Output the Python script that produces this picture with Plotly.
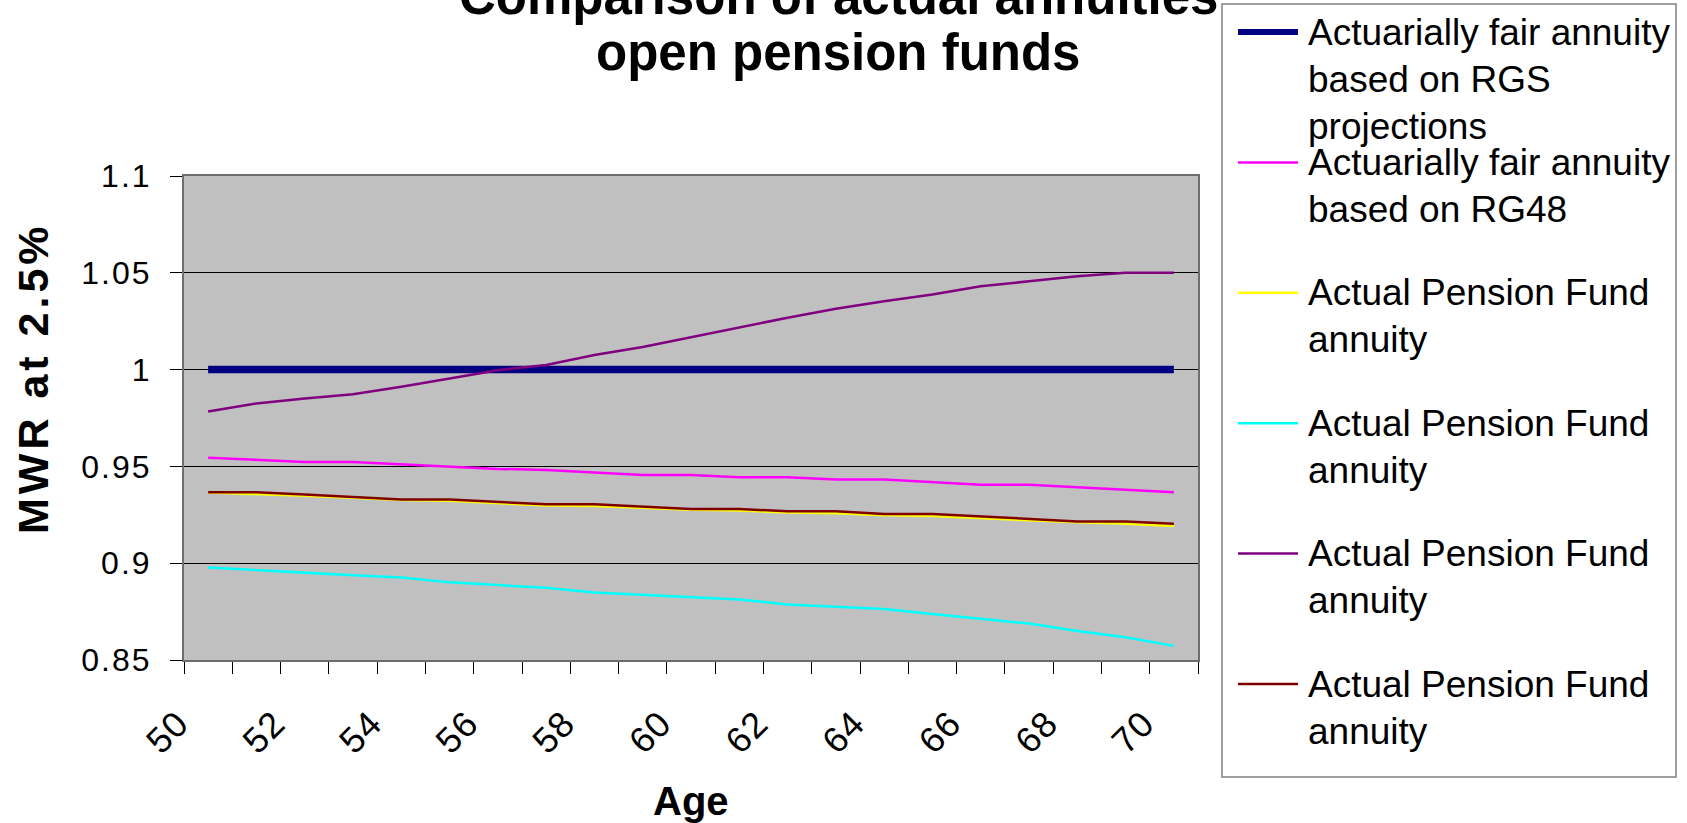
import plotly.graph_objects as go

# ---- data -------------------------------------------------------------
ages = [50, 51, 52, 53, 54, 55, 56, 57, 58, 59, 60,
        61, 62, 63, 64, 65, 66, 67, 68, 69, 70]
age_tick_labels = ["50", "52", "54", "56", "58", "60", "62", "64", "66", "68", "70"]
age_tick_values = [50, 52, 54, 56, 58, 60, 62, 64, 66, 68, 70]

mwr_tick_values = [0.85, 0.9, 0.95, 1.0, 1.05, 1.1]
mwr_tick_labels = ["0.85", "0.9", "0.95", "1", "1.05", "1.1"]

fair_rgs = [1.0, 1.0, 1.0, 1.0, 1.0, 1.0, 1.0, 1.0, 1.0, 1.0, 1.0,
            1.0, 1.0, 1.0, 1.0, 1.0, 1.0, 1.0, 1.0, 1.0, 1.0]
fair_rg48 = [0.9545, 0.9533, 0.9523, 0.9523, 0.9511, 0.9499, 0.9487, 0.9482, 0.9470, 0.9456, 0.9456,
             0.9444, 0.9444, 0.9432, 0.9432, 0.9419, 0.9405, 0.9405, 0.9393, 0.9381, 0.9367]
fund_a = [0.9365, 0.9358, 0.9348, 0.9338, 0.9326, 0.9322, 0.9310, 0.9298, 0.9296, 0.9286, 0.9276,
          0.9272, 0.9262, 0.9258, 0.9248, 0.9244, 0.9232, 0.9222, 0.9212, 0.9204, 0.9192]
fund_b = [0.8978, 0.8964, 0.8952, 0.8938, 0.8926, 0.8901, 0.8887, 0.8873, 0.8849, 0.8837, 0.8825,
          0.8813, 0.8787, 0.8775, 0.8763, 0.8738, 0.8712, 0.8688, 0.8650, 0.8617, 0.8573]
fund_c = [0.9784, 0.9825, 0.9851, 0.9873, 0.9911, 0.9954, 0.9997, 1.0024, 1.0075, 1.0117, 1.0168,
          1.0220, 1.0268, 1.0314, 1.0353, 1.0388, 1.0431, 1.0456, 1.0482, 1.0500, 1.0500]
fund_d = [0.9367, 0.9367, 0.9355, 0.9341, 0.9329, 0.9329, 0.9316, 0.9304, 0.9304, 0.9292, 0.9280,
          0.9280, 0.9268, 0.9268, 0.9254, 0.9254, 0.9242, 0.9230, 0.9216, 0.9216, 0.9204]

series_values = [fair_rgs, fair_rg48, fund_a, fund_b, fund_c, fund_d]
series_colors = ["#000080", "#FF00FF", "#FFFF00", "#00FFFF", "#800080", "#800000"]
series_widths = [7.5, 2.5, 2.5, 2.5, 2.5, 2.5]
legend_lines = [
    ["Actuarially fair annuity", "based on RGS", "projections"],
    ["Actuarially fair annuity", "based on RG48"],
    ["Actual Pension Fund", "annuity"],
    ["Actual Pension Fund", "annuity"],
    ["Actual Pension Fund", "annuity"],
    ["Actual Pension Fund", "annuity"],
]

title_lines = ["Comparison of actual annuities", "open pension funds"]
x_title = "Age"
y_title = "MWR at 2.5%"

# ---- geometry ----------------------------------------------------------
W, H = 1687, 823
PL, PR, PT, PB = 184, 1198, 176, 660
FONT = "Liberation Sans, Arial, sans-serif"


def fx(x):
    return (x - PL) / (PR - PL)


def fy(y):
    return (PB - y) / (PB - PT)


def spaced(text, px):
    return f'<span style="letter-spacing:{px}px">{text}</span>'


fig = go.Figure()
for vals, col, wd, lines in zip(series_values, series_colors, series_widths, legend_lines):
    fig.add_trace(go.Scatter(
        x=ages, y=vals, mode="lines", name=" ".join(lines),
        line=dict(color=col, width=wd), showlegend=False, hoverinfo="skip",
    ))

shapes = []
annotations = []

# legend frame, swatches and wrapped labels
LEG_FONT = 37
shapes.append(dict(type="rect", xref="paper", yref="paper",
                   x0=fx(1222), x1=fx(1676), y0=fy(777), y1=fy(4),
                   line=dict(color="#808080", width=1.5), fillcolor="white", layer="above"))
for i, (col, lines) in enumerate(zip(series_colors, legend_lines)):
    sy = 32 + i * 130.4
    shapes.append(dict(type="line", xref="paper", yref="paper",
                       x0=fx(1238), x1=fx(1298), y0=fy(sy), y1=fy(sy),
                       line=dict(color=col, width=6 if i == 0 else 2.5), layer="above"))
    for k, txt in enumerate(lines):
        base = sy + 13 + k * 47
        annotations.append(dict(
            xref="paper", yref="paper", x=fx(1306), y=fy(base - 0.35 * LEG_FONT),
            xanchor="left", yanchor="middle", showarrow=False,
            text=txt, font=dict(family=FONT, size=LEG_FONT, color="black"),
        ))

# title (two lines, the first running off the top edge)
for txt, base in zip(title_lines, [14, 70]):
    annotations.append(dict(
        xref="paper", yref="paper", x=fx(838), y=fy(base - 0.35 * 51),
        xanchor="center", yanchor="middle", showarrow=False,
        text=f"<b>{txt}</b>", font=dict(family=FONT, size=51, color="black"),
    ))

# axis titles
annotations.append(dict(
    xref="paper", yref="paper", x=fx(691), y=fy(801),
    xanchor="center", yanchor="middle", showarrow=False,
    text=f"<b>{x_title}</b>", font=dict(family=FONT, size=40, color="black"),
))
annotations.append(dict(
    xref="paper", yref="paper", x=fx(33), y=fy(378),
    xanchor="center", yanchor="middle", showarrow=False, textangle=-90,
    text=f"<b>{spaced(y_title, 4)}</b>", font=dict(family=FONT, size=43, color="black"),
))

boundaries = [a - 0.5 for a in ages] + [ages[-1] + 0.5]

fig.update_layout(
    width=W, height=H, autosize=False,
    margin=dict(l=PL, r=W - PR, t=PT, b=H - PB, pad=0),
    paper_bgcolor="white", plot_bgcolor="#C0C0C0",
    font=dict(family=FONT, color="black"),
    shapes=shapes, annotations=annotations,
    xaxis=dict(
        range=[ages[0] - 0.5, ages[-1] + 0.5], showgrid=False, zeroline=False,
        tickmode="array", tickvals=age_tick_values,
        ticktext=[spaced(t, 1) for t in age_tick_labels],
        tickangle=-45, ticks="", tickfont=dict(family=FONT, size=36),
        ticklabelstandoff=26, ticklabelshift=-30,
        minor=dict(tickmode="array", tickvals=boundaries, ticks="outside",
                   ticklen=12, tickwidth=1, tickcolor="black", showgrid=False),
        showline=True, linecolor="#6e6e6e", linewidth=2, mirror=True,
    ),
    yaxis=dict(
        range=[0.85, 1.1], zeroline=False,
        tickmode="array", tickvals=mwr_tick_values,
        ticktext=[spaced(t, 2) for t in mwr_tick_labels],
        ticks="outside", ticklen=12, tickwidth=1, tickcolor="black",
        tickfont=dict(family=FONT, size=32), ticklabelstandoff=12,
        showgrid=True, gridcolor="black", gridwidth=1,
        showline=True, linecolor="#6e6e6e", linewidth=2, mirror=True,
    ),
)

fig.write_html("out.html")
